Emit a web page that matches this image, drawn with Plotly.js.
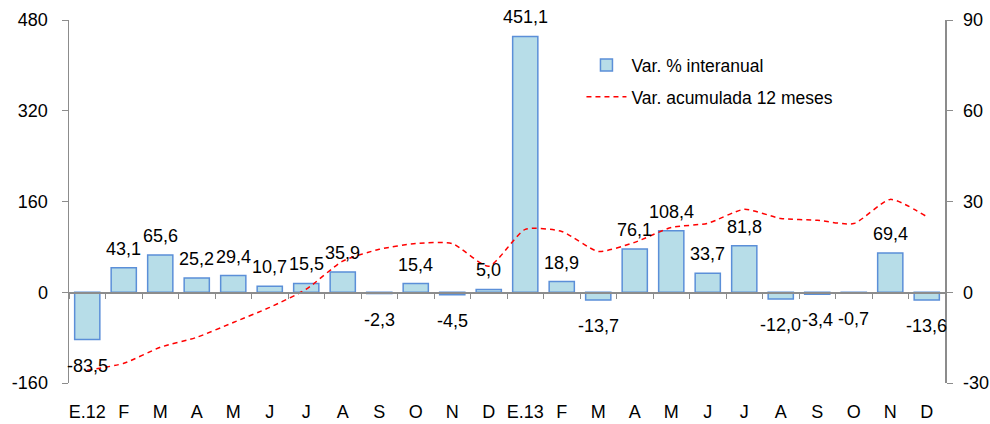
<!DOCTYPE html>
<html>
<head>
<meta charset="utf-8">
<script src="https://cdn.plot.ly/plotly-3.0.1.min.js"></script>
<style>html,body{margin:0;padding:0;background:#fff;}#chart{width:990px;height:424px;}</style>
</head>
<body>
<div id="chart"></div>
<script>
var categories = ["E.12","F","M","A","M","J","J","A","S","O","N","D","E.13","F","M","A","M","J","J","A","S","O","N","D"];
var interanual = [-83.5,43.1,65.6,25.2,29.4,10.7,15.5,35.9,-2.3,15.4,-4.5,5.0,451.1,18.9,-13.7,76.1,108.4,33.7,81.8,-12.0,-3.4,-0.7,69.4,-13.6];
var acumulada = [-25.8,-23.5,-18.2,-14.9,-10.0,-5.0,1.0,10.3,14.2,16.1,16.1,8.6,20.8,20.1,13.5,16.5,21.4,22.8,27.4,24.4,23.8,22.7,30.7,25.0];
var leftTicks = [-160,0,160,320,480];
var leftTickText = ["-160","0","160","320","480"];
var rightTicks = [-30,0,30,60,90];
var rightTickText = ["-30","0","30","60","90"];

var idx = categories.map(function(_, i){ return i; });
var boundaries = [];
for (var b = 0; b <= categories.length; b++) boundaries.push(b - 0.5);

var font = 'Arial, "Liberation Sans", sans-serif';

var traces = [
  {
    type: 'bar', x: idx, y: interanual, name: 'Var. % interanual',
    legendgroup: 'a',
    marker: {color: '#b7dde8', line: {color: '#5b8fd8', width: 1.5}},
    hoverinfo: 'skip'
  },
  {
    type: 'scatter', mode: 'lines', x: idx, y: acumulada, xaxis: 'x2', yaxis: 'y2',
    name: 'Var. acumulada 12 meses', legendgroup: 'b',
    line: {color: '#ff0000', width: 1.5, dash: '5px,4px', shape: 'spline', smoothing: 0.6},
    hoverinfo: 'skip'
  }
];

var annotations = interanual.map(function(v, i){
  return {
    x: i, y: v, xref: 'x', yref: 'y',
    text: v.toFixed(1).replace('.', ','),
    showarrow: false, yanchor: 'middle', xanchor: 'center',
    yshift: v >= 0 ? 19 : -26,
    font: {family: font, size: 18, color: '#000'}
  };
});

var layout = {
  width: 990, height: 424,
  margin: {l: 69, r: 45, t: 20, b: 41},
  paper_bgcolor: '#fff', plot_bgcolor: '#fff',
  font: {family: font, size: 18, color: '#000'},
  bargap: 0.31,
  showlegend: true,
  legend: {
    x: 0.585, y: 0.925, xanchor: 'left', yanchor: 'top',
    bgcolor: 'rgba(0,0,0,0)', font: {family: font, size: 17.5, color: '#000'},
    tracegroupgap: 6, itemwidth: 40, traceorder: 'grouped'
  },
  xaxis: {
    range: [-0.5, categories.length - 0.5],
    tickmode: 'array', tickvals: idx, ticktext: categories,
    showline: false, ticks: 'outside', ticklen: 12, tickcolor: 'rgba(0,0,0,0)',
    showgrid: false, zeroline: false,
    tickfont: {family: font, size: 18, color: '#000'}
  },
  xaxis2: {
    overlaying: 'x', anchor: 'free', position: 0.25,
    range: [-0.5, categories.length - 0.5],
    tickmode: 'array', tickvals: boundaries, showticklabels: false,
    showline: true, linecolor: '#8c8c8c', linewidth: 1.5,
    ticks: 'outside', ticklen: 5, tickcolor: '#8c8c8c', tickwidth: 1,
    showgrid: false, zeroline: false
  },
  yaxis: {
    range: [-160, 480], tickmode: 'array', tickvals: leftTicks, ticktext: leftTickText,
    showline: true, linecolor: '#8c8c8c', linewidth: 1.5,
    ticks: 'outside', ticklen: 6, tickcolor: '#8c8c8c',
    ticklabelstandoff: 10,
    showgrid: false, zeroline: false,
    tickfont: {family: font, size: 18, color: '#000'}
  },
  yaxis2: {
    overlaying: 'y', side: 'right', anchor: 'x',
    range: [-30, 90], tickmode: 'array', tickvals: rightTicks, ticktext: rightTickText,
    showline: true, linecolor: '#8c8c8c', linewidth: 1.5,
    ticks: 'outside', ticklen: 6, tickcolor: '#8c8c8c',
    ticklabelstandoff: 7,
    showgrid: false, zeroline: false,
    tickfont: {family: font, size: 18, color: '#000'}
  },
  annotations: annotations
};

Plotly.newPlot('chart', traces, layout, {displayModeBar: false, staticPlot: true});
</script>
</body>
</html>
